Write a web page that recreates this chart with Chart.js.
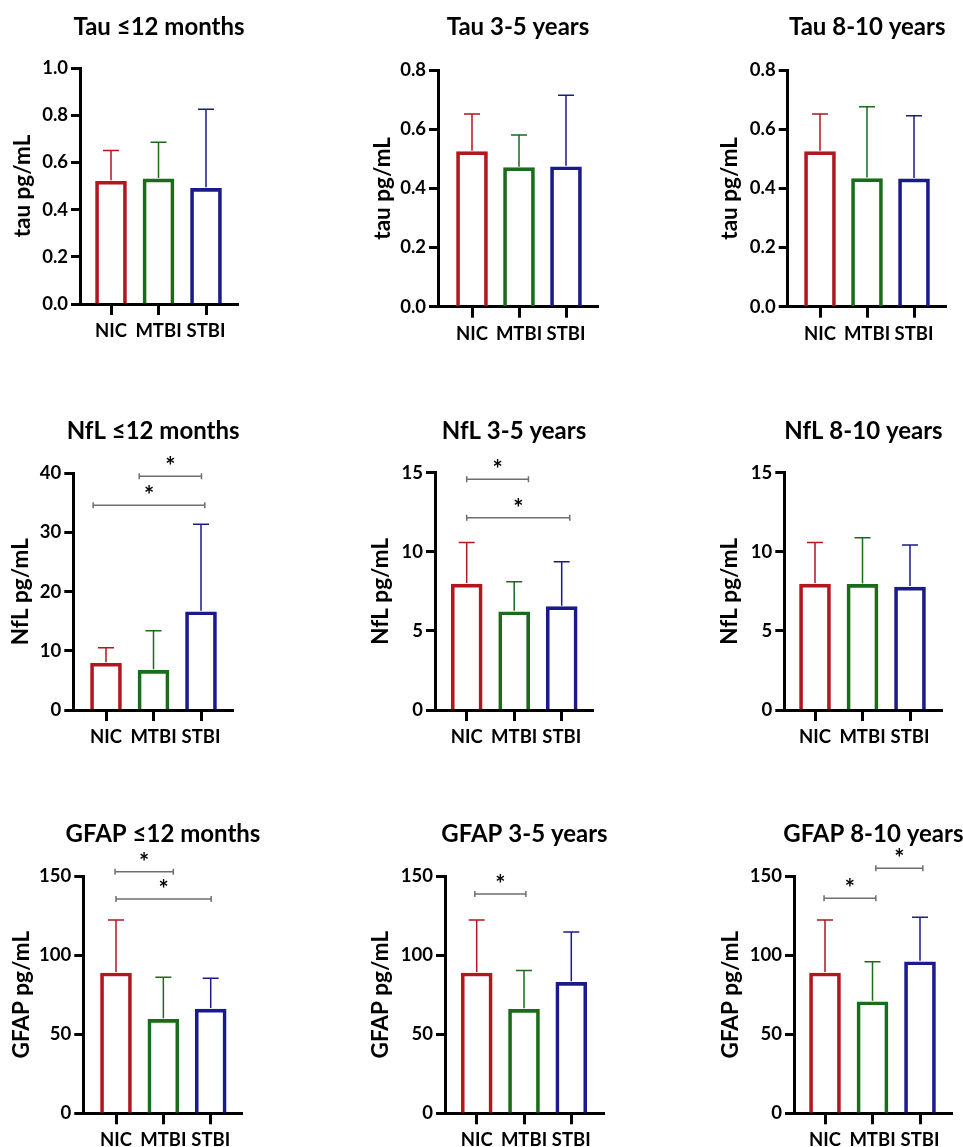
<!DOCTYPE html>
<html>
<head>
<meta charset="utf-8">
<script src="https://cdn.jsdelivr.net/npm/chart.js@4.4.1/dist/chart.umd.min.js"></script>
<style>
html, body { margin: 0; padding: 0; background: #fff; overflow: hidden; }
#page { position: relative; width: 963px; height: 1147px; }
#page canvas { position: absolute; }
</style>
</head>
<body>
<div id="page"></div>
<script>
const groups = ['NIC', 'MTBI', 'STBI'];
const groupColors = ['#B0171F', '#1A6B1A', '#1A1A8C'];

// mean and SD (upper bar only)
const tau12Mean = [0.52, 0.53, 0.49];
const tau12Sd = [0.13, 0.155, 0.335];
const tau35Mean = [0.524, 0.47, 0.473];
const tau35Sd = [0.127, 0.11, 0.242];
const tau810Mean = [0.524, 0.433, 0.432];
const tau810Sd = [0.127, 0.243, 0.213];

const nfl12Mean = [7.9, 6.7, 16.6];
const nfl12Sd = [2.6, 6.7, 14.8];
const nfl35Mean = [7.96, 6.21, 6.53];
const nfl35Sd = [2.62, 1.9, 2.84];
const nfl810Mean = [7.96, 7.94, 7.77];
const nfl810Sd = [2.62, 2.95, 2.66];

const gfap12Mean = [88.7, 59.4, 65.9];
const gfap12Sd = [33.5, 26.6, 19.4];
const gfap35Mean = [88.7, 65.7, 82.8];
const gfap35Sd = [33.5, 24.5, 31.8];
const gfap810Mean = [88.7, 70.5, 95.8];
const gfap810Sd = [33.5, 25.3, 28.1];

// significance brackets (x in group units, y in data units)
const nfl12Sig = [{from: 0.70, to: 2.01, y: 39.5}, {from: -0.27, to: 2.08, y: 34.6}];
const nfl35Sig = [{from: 0, to: 1.30, y: 14.58}, {from: 0, to: 2.17, y: 12.16}];
const gfap12Sig = [{from: -0.02, to: 1.21, y: 152.7}, {from: 0, to: 2.01, y: 135.5}];
const gfap35Sig = [{from: -0.04, to: 1.04, y: 138.6}];
const gfap810Sig = [{from: -0.02, to: 1.07, y: 135.9}, {from: 1.07, to: 2.06, y: 154.9}];

const panels = [
    {title: 'Tau ≤12 months', yTitle: 'tau pg/mL', mean: tau12Mean, sd: tau12Sd, yMax: 1.0, yStep: 0.2, dec: 1, sig: []},
    {title: 'Tau 3-5 years', yTitle: 'tau pg/mL', mean: tau35Mean, sd: tau35Sd, yMax: 0.8, yStep: 0.2, dec: 1, sig: []},
    {title: 'Tau 8-10 years', yTitle: 'tau pg/mL', mean: tau810Mean, sd: tau810Sd, yMax: 0.8, yStep: 0.2, dec: 1, sig: []},
    {title: 'NfL ≤12 months', yTitle: 'NfL pg/mL', mean: nfl12Mean, sd: nfl12Sd, yMax: 40, yStep: 10, dec: 0, sig: nfl12Sig},
    {title: 'NfL 3-5 years', yTitle: 'NfL pg/mL', mean: nfl35Mean, sd: nfl35Sd, yMax: 15, yStep: 5, dec: 0, sig: nfl35Sig},
    {title: 'NfL 8-10 years', yTitle: 'NfL pg/mL', mean: nfl810Mean, sd: nfl810Sd, yMax: 15, yStep: 5, dec: 0, sig: []},
    {title: 'GFAP ≤12 months', yTitle: 'GFAP pg/mL', mean: gfap12Mean, sd: gfap12Sd, yMax: 150, yStep: 50, dec: 0, sig: gfap12Sig},
    {title: 'GFAP 3-5 years', yTitle: 'GFAP pg/mL', mean: gfap35Mean, sd: gfap35Sd, yMax: 150, yStep: 50, dec: 0, sig: gfap35Sig},
    {title: 'GFAP 8-10 years', yTitle: 'GFAP pg/mL', mean: gfap810Mean, sd: gfap810Sd, yMax: 150, yStep: 50, dec: 0, sig: gfap810Sig}
];

// page layout of each panel: axis frame, first group centre, group spacing, title line, y-title gap
const frames = [
    {ax: 80, top: 68, right: 238, bottom: 304, ty: 25.5, c0: 111, sp: 47.5, d: 57.5},
    {ax: 438, top: 70, right: 598, bottom: 306.7, ty: 26, c0: 472, sp: 47, d: 55},
    {ax: 787.7, top: 70, right: 946.7, bottom: 306.7, ty: 26, c0: 820, sp: 47, d: 57.7},
    {ax: 73.3, top: 473.3, right: 233, bottom: 710, ty: 429.5, c0: 106, sp: 47.5, d: 53},
    {ax: 435, top: 472.7, right: 593, bottom: 710, ty: 429.5, c0: 466.7, sp: 47.5, d: 54},
    {ax: 784.3, top: 472.7, right: 942.7, bottom: 710, ty: 430, c0: 815, sp: 47.5, d: 54.8},
    {ax: 83.3, top: 876, right: 242.7, bottom: 1113.3, ty: 832.5, c0: 116, sp: 47.35, d: 62},
    {ax: 445, top: 876, right: 604, bottom: 1113.3, ty: 833, c0: 476.7, sp: 47.3, d: 64},
    {ax: 794, top: 876, right: 952.7, bottom: 1113.3, ty: 833, c0: 825, sp: 47.5, d: 63}
];

const FONT = 'Lato';
const Y_WIDTH = 78;
const X_HEIGHT = 45;
const Y_TITLE_SIZE = 22.5;

function makeExtras(p, titleY) {
    return {
        id: 'extras',
        afterDatasetsDraw(chart) {
            const ctx = chart.ctx;
            const ys = chart.scales.y;
            const meta = chart.getDatasetMeta(0);
            ctx.save();
            ctx.lineWidth = 1.5;
            p.mean.forEach(function(m, i) {
                const x = meta.data[i].x;
                const y0 = ys.getPixelForValue(m);
                const y1 = ys.getPixelForValue(m + p.sd[i]);
                ctx.strokeStyle = groupColors[i];
                ctx.beginPath();
                ctx.moveTo(x, y0 - 1);
                ctx.lineTo(x, y1);
                ctx.moveTo(x - 8, y1);
                ctx.lineTo(x + 8, y1);
                ctx.stroke();
            });
            ctx.restore();
        },
        afterDraw(chart) {
            const ctx = chart.ctx;
            const xs = chart.scales.x, ys = chart.scales.y;
            const area = chart.chartArea;
            ctx.save();
            // panel title
            ctx.fillStyle = '#000';
            ctx.textAlign = 'center';
            ctx.textBaseline = 'alphabetic';
            ctx.font = 'bold 24px ' + FONT;
            ctx.fillText(p.title, (area.left + area.right) / 2, titleY + 9);
            // significance brackets
            ctx.strokeStyle = '#6E6E6E';
            ctx.lineWidth = 1.5;
            ctx.font = 'bold 24px ' + FONT;
            p.sig.forEach(function(s) {
                const xa = xs.getPixelForValue(s.from);
                const xb = xs.getPixelForValue(s.to);
                const y = ys.getPixelForValue(s.y);
                ctx.beginPath();
                ctx.moveTo(xa, y); ctx.lineTo(xb, y);
                ctx.moveTo(xa, y - 3); ctx.lineTo(xa, y + 3);
                ctx.moveTo(xb, y - 3); ctx.lineTo(xb, y + 3);
                ctx.stroke();
                ctx.fillText('*', (xa + xb) / 2, y - 1);
            });
            ctx.restore();
        }
    };
}

const page = document.getElementById('page');

panels.forEach(function(p, k) {
    const g = frames[k];
    const L = Math.round(g.ax - 80);
    const T = Math.max(0, Math.round(g.ty - 26));
    const W = Math.min(963 - L, Math.round(g.right - L + 30));
    const H = Math.round(g.bottom - T + 50);
    const cv = document.createElement('canvas');
    cv.width = W; cv.height = H;
    cv.style.left = L + 'px'; cv.style.top = T + 'px';
    cv.style.width = W + 'px'; cv.style.height = H + 'px';
    page.appendChild(cv);

    const tickFont = {family: FONT, size: 18.5, weight: 'bold'};

    new Chart(cv, {
        type: 'bar',
        data: {
            datasets: [{
                data: p.mean.map(function(m, i) { return {x: i, y: m}; }),
                borderColor: groupColors,
                backgroundColor: 'rgba(255,255,255,0)',
                borderWidth: 3,
                borderSkipped: 'start',
                barThickness: 31
            }]
        },
        options: {
            responsive: false,
            animation: false,
            events: [],
            layout: {
                padding: {
                    left: g.ax - L - Y_WIDTH,
                    top: g.top - T,
                    right: W - (g.right - L),
                    bottom: H - (g.bottom - T) - X_HEIGHT
                }
            },
            plugins: {legend: {display: false}, tooltip: {enabled: false}, title: {display: false}},
            scales: {
                x: {
                    type: 'linear',
                    offset: false,
                    min: (g.ax - g.c0) / g.sp,
                    max: (g.right - g.c0) / g.sp,
                    afterBuildTicks: function(s) { s.ticks = groups.map(function(_, i) { return {value: i}; }); },
                    afterFit: function(s) { s.height = X_HEIGHT; },
                    ticks: {
                        callback: function(v, i) { return groups[i]; },
                        font: tickFont, color: '#000', padding: 5, maxRotation: 0, autoSkip: false
                    },
                    grid: {offset: false, drawOnChartArea: false, drawTicks: true, tickLength: 11, tickWidth: 3, tickColor: '#000'},
                    border: {display: true, width: 3, color: '#000'}
                },
                y: {
                    min: 0,
                    max: p.yMax,
                    afterFit: function(s) { s.width = Y_WIDTH; },
                    ticks: {
                        stepSize: p.yStep,
                        callback: function(v) { return v.toFixed(p.dec); },
                        font: tickFont, color: '#000', padding: 3
                    },
                    grid: {drawOnChartArea: false, drawTicks: true, tickLength: 9, tickWidth: 3, tickColor: '#000'},
                    border: {display: true, width: 3, color: '#000'},
                    title: {
                        display: true,
                        text: p.yTitle,
                        color: '#000',
                        font: {family: FONT, size: Y_TITLE_SIZE, weight: 'bold'},
                        padding: {top: 78 - g.d - Y_TITLE_SIZE * 0.6, bottom: 0}
                    }
                }
            }
        },
        plugins: [makeExtras(p, g.ty - T)]
    });
});
</script>
</body>
</html>
